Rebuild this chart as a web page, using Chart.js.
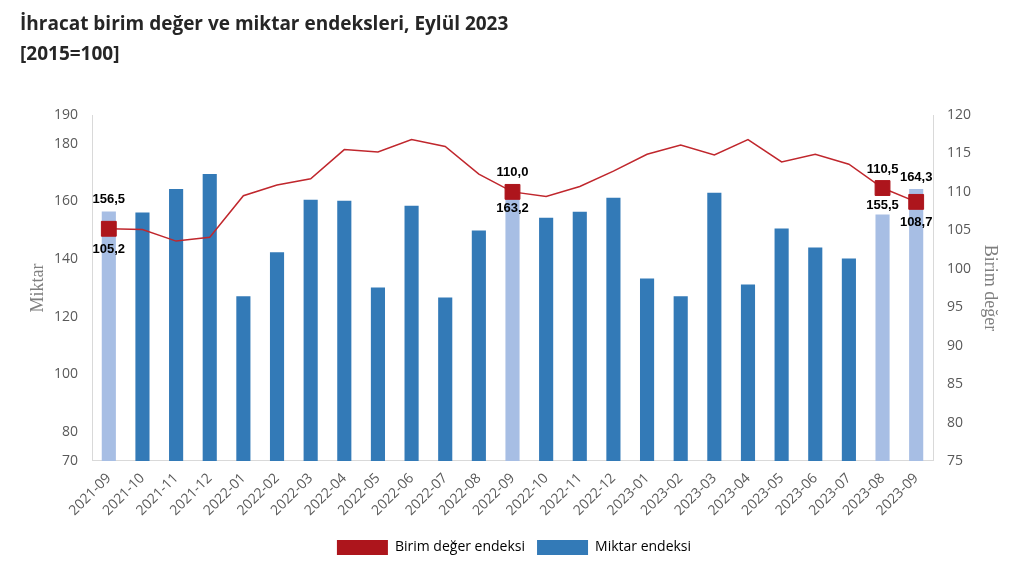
<!DOCTYPE html>
<html>
<head>
<meta charset="utf-8">
<script src="https://cdn.jsdelivr.net/npm/chart.js@4"></script>
<style>
  html, body { margin: 0; padding: 0; background: #fff; }
  #wrap { position: relative; width: 1018px; height: 572px; }
  #title {
    position: absolute; left: 20px; top: 8px;
    font-family: "Open Sans", "Noto Sans", sans-serif; font-weight: bold;
    font-size: 19px; line-height: 30px; color: #262626;
  }
</style>
</head>
<body>
<div id="wrap">
  <div id="title">İhracat birim değer ve miktar endeksleri, Eylül 2023<br>[2015=100]</div>
  <canvas id="chart" width="1018" height="572"></canvas>
</div>
<script>
const months = ['2021-09', '2021-10', '2021-11', '2021-12', '2022-01', '2022-02', '2022-03', '2022-04',
  '2022-05', '2022-06', '2022-07', '2022-08', '2022-09', '2022-10', '2022-11', '2022-12', '2023-01',
  '2023-02', '2023-03', '2023-04', '2023-05', '2023-06', '2023-07', '2023-08', '2023-09'];

// Miktar endeksi (sol eksen)
const miktar = [156.5, 156.2, 164.3, 169.5, 127.1, 142.4, 160.6, 160.3, 130.2, 158.5, 126.7, 149.9,
  163.2, 154.4, 156.4, 161.3, 133.3, 127.1, 163.0, 131.2, 150.6, 144.0, 140.2, 155.5, 164.3];

// Birim değer endeksi (sağ eksen)
const birimDeger = [105.2, 105.1, 103.6, 104.1, 109.5, 110.9, 111.7, 115.5, 115.2, 116.8, 115.9, 112.3,
  110.0, 109.4, 110.7, 112.7, 114.9, 116.1, 114.8, 116.8, 113.9, 114.9, 113.6, 110.5, 108.7];

// vurgulanan aylar
const highlighted = ['2021-09', '2022-09', '2023-08', '2023-09'];

const leftTicks = [70, 80, 100, 120, 140, 160, 180, 190];

const RED = '#AD151C';
const LINE_RED = '#C0272D';
const BLUE = '#337AB7';
const LIGHT_BLUE = '#A7BEE4';
const AXIS_GRAY = '#D9D9D9';
const TEXT_GRAY = '#595959';

const isHi = i => highlighted.includes(months[i]);
const fmt = v => v.toFixed(1).replace('.', ',');

const labelPlugin = {
  id: 'valueLabels',
  afterDatasetsDraw(chart) {
    const ctx = chart.ctx;
    const lineMeta = chart.getDatasetMeta(0);
    const barMeta = chart.getDatasetMeta(1);
    ctx.save();
    ctx.font = 'bold 13px "Liberation Sans", Arial, sans-serif';
    ctx.fillStyle = '#000';
    ctx.textAlign = 'center';
    ctx.textBaseline = 'middle';
    months.forEach((m, i) => {
      if (!isHi(i)) return;
      const pt = lineMeta.data[i];
      const bar = barMeta.data[i];
      if (bar.y < pt.y - 5) {
        ctx.fillText(fmt(miktar[i]), bar.x, bar.y - 12);
        ctx.fillText(fmt(birimDeger[i]), pt.x, pt.y + 21);
      } else {
        ctx.fillText(fmt(birimDeger[i]), pt.x, pt.y - 19);
        ctx.fillText(fmt(miktar[i]), bar.x, pt.y + 17);
      }
    });
    ctx.restore();
  }
};

const tickFont = { family: '"Open Sans", "Noto Sans", sans-serif', size: 14 };
const axisTitleFont = { family: '"Liberation Serif", "DejaVu Serif", serif', size: 18 };

new Chart(document.getElementById('chart'), {
  data: {
    labels: months,
    datasets: [
      {
        type: 'line',
        label: 'Birim değer endeksi',
        data: birimDeger,
        yAxisID: 'y2',
        borderColor: LINE_RED,
        backgroundColor: RED,
        borderWidth: 1.5,
        tension: 0,
        pointStyle: 'rect',
        pointRadius: c => isHi(c.dataIndex) ? 10.5 : 0,
        pointBackgroundColor: RED,
        pointBorderColor: RED,
        pointBorderWidth: 1,
        order: 0
      },
      {
        type: 'bar',
        label: 'Miktar endeksi',
        data: miktar,
        yAxisID: 'y',
        backgroundColor: c => isHi(c.dataIndex) ? LIGHT_BLUE : BLUE,
        categoryPercentage: 1,
        barPercentage: 0.42,
        base: 70,
        order: 1
      }
    ]
  },
  options: {
    responsive: false,
    animation: false,
    layout: { padding: { top: 115, left: 20, right: 10, bottom: 7 } },
    plugins: {
      tooltip: { enabled: false },
      legend: {
        position: 'bottom',
        labels: {
          boxWidth: 51,
          boxHeight: 15,
          padding: 12,
          color: '#262626',
          font: { family: '"Open Sans", "Noto Sans", sans-serif', size: 14 },
          generateLabels: () => [
            { text: 'Birim değer endeksi', fillStyle: RED, strokeStyle: RED, lineWidth: 0, datasetIndex: 0 },
            { text: 'Miktar endeksi', fillStyle: BLUE, strokeStyle: BLUE, lineWidth: 0, datasetIndex: 1 }
          ]
        }
      }
    },
    scales: {
      x: {
        offset: true,
        grid: { display: false, drawTicks: false },
        border: { display: true, color: AXIS_GRAY },
        ticks: { color: TEXT_GRAY, font: tickFont, minRotation: 45, maxRotation: 45, padding: 9 }
      },
      y: {
        position: 'left',
        min: 70,
        max: 190,
        afterBuildTicks: axis => { axis.ticks = leftTicks.map(v => ({ value: v })); },
        afterFit: axis => { axis.width = 72; },
        grid: { display: false, drawTicks: false },
        border: { display: true, color: AXIS_GRAY },
        ticks: { color: TEXT_GRAY, font: tickFont, padding: 14 },
        title: { display: true, text: 'Miktar', color: '#7F7F7F', font: axisTitleFont, padding: { top: 7, bottom: 0 } }
      },
      y2: {
        position: 'right',
        min: 75,
        max: 120,
        afterFit: axis => { axis.width = 75; },
        grid: { display: false, drawTicks: false },
        border: { display: true, color: AXIS_GRAY },
        ticks: { stepSize: 5, color: TEXT_GRAY, font: tickFont, padding: 14 },
        title: { display: true, text: 'Birim değer', color: '#7F7F7F', font: axisTitleFont, padding: { top: 7, bottom: 0 } }
      }
    }
  },
  plugins: [labelPlugin]
});
</script>
</body>
</html>
